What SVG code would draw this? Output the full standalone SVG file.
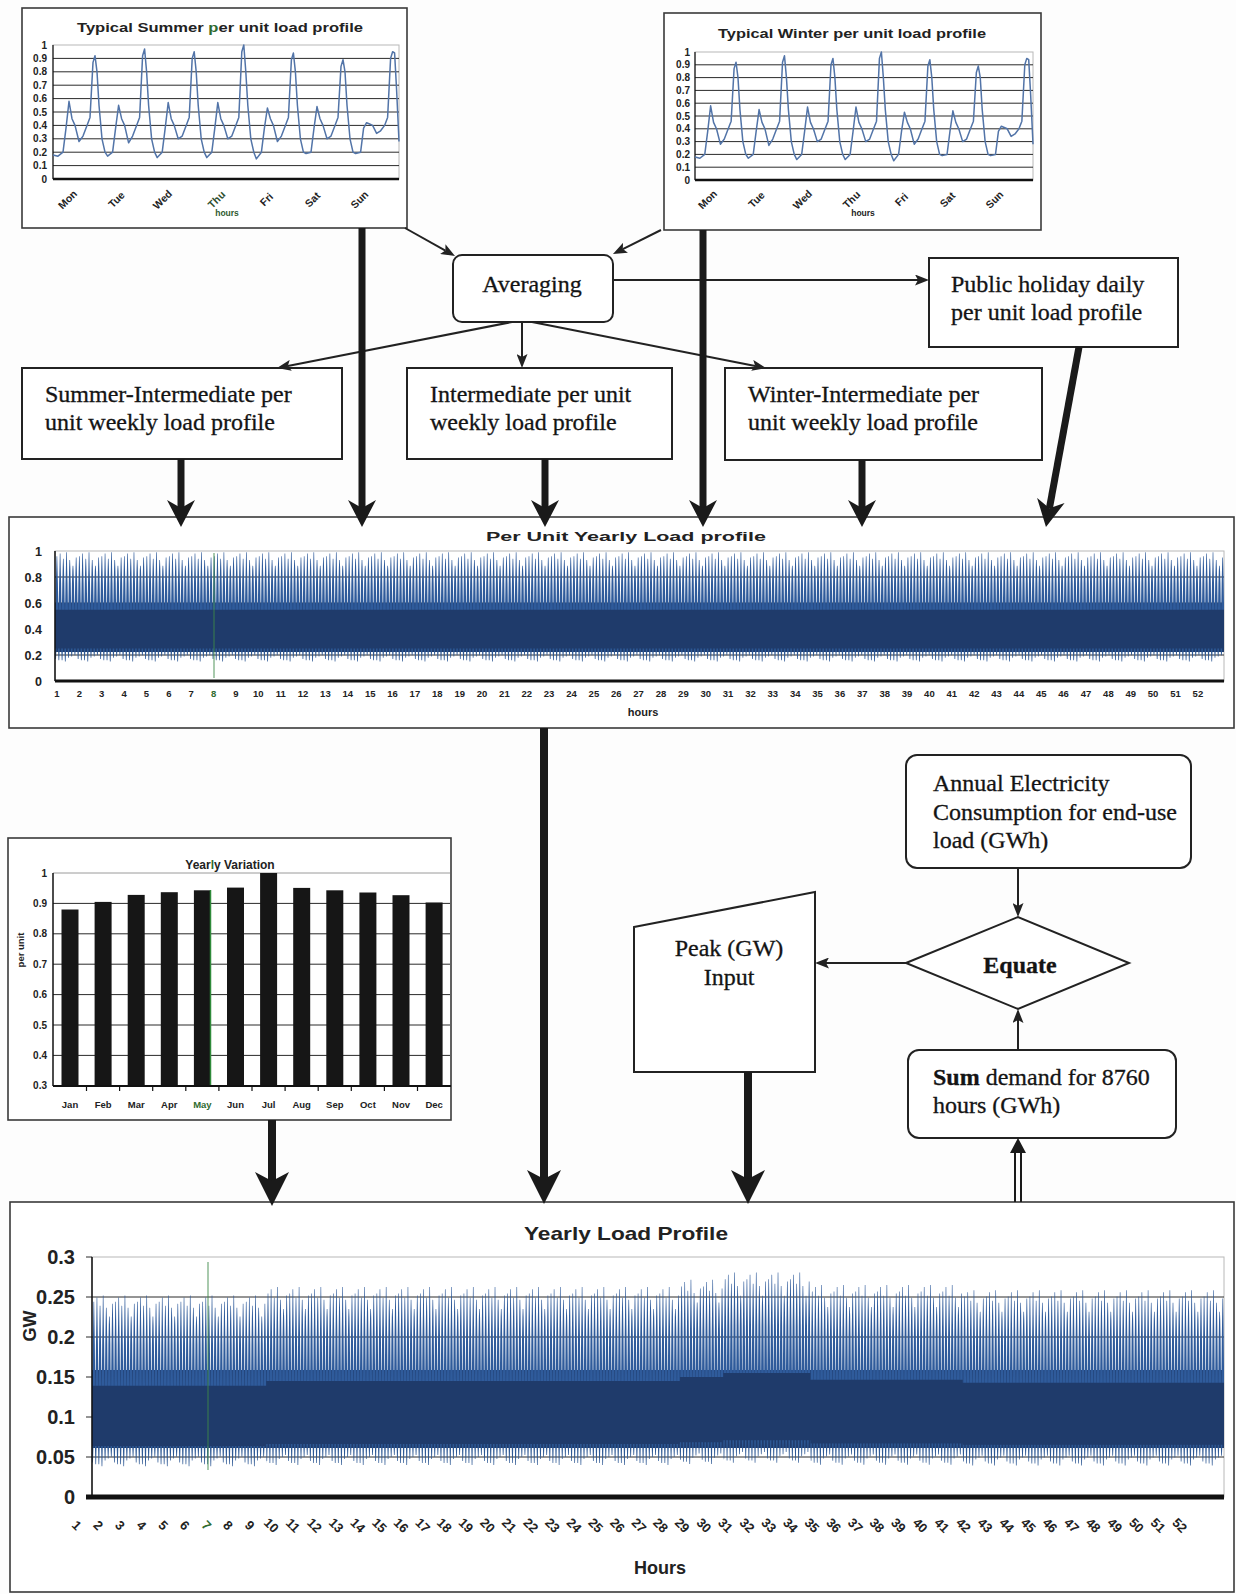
<svg xmlns="http://www.w3.org/2000/svg" xmlns:xlink="http://www.w3.org/1999/xlink" width="1236" height="1594" viewBox="0 0 1236 1594">
<style>
.frame{fill:#fff;stroke:#3a3a3a;stroke-width:1.6}
.box{fill:#fff;stroke:#222;stroke-width:2}
.nt{font-family:"Liberation Serif","Times New Roman",serif;font-size:24px;fill:#141414;stroke:#141414;stroke-width:0.3}
.ct{font-family:"Liberation Sans",Arial,sans-serif;font-weight:bold;fill:#222}
.grid{stroke:#2a2a2a;stroke-width:1}
.pb{fill:none;stroke:#b8b8b8;stroke-width:1}
.ax{stroke:#111;fill:none}
.thin{stroke:#222;stroke-width:2;fill:none;marker-end:url(#at)}
.thick{stroke:#1a1a1a;stroke-width:7;fill:none;marker-end:url(#ah)}
.big{stroke:#1a1a1a;stroke-width:8;fill:none;marker-end:url(#ab)}
.wl{fill:none;stroke:#5274a8;stroke-width:1.5;stroke-linejoin:round}
.grn{fill:#2f6b2f}
.jag{fill:#2d5894}
.spk{fill:#2f5b9b}
.core{fill:#1f3b6b}
</style>
<defs>
<marker id="at" markerUnits="userSpaceOnUse" markerWidth="14" markerHeight="11" refX="3" refY="5.5" orient="auto" viewBox="0 0 14 11"><path d="M0,0 L14,5.5 L0,11 L3,5.5Z" fill="#222"/></marker>
<marker id="ah" markerUnits="userSpaceOnUse" markerWidth="27" markerHeight="28" refX="8" refY="14" orient="auto" viewBox="0 0 27 28"><path d="M0,0 L27,14 L0,28 L8,14Z" fill="#1a1a1a"/></marker>
<marker id="ab" markerUnits="userSpaceOnUse" markerWidth="34" markerHeight="34" refX="9" refY="17" orient="auto" viewBox="0 0 34 34"><path d="M0,0 L34,17 L0,34 L9,17Z" fill="#1a1a1a"/></marker>
<g id="wk">
<path class="jag" d="M-0.2,-53L0.3,-36L1.0,-36L1.5,-53Z M3.01,-53L3.51,-34L4.21,-34L4.71,-53Z M6.22,-53L6.72,-34L7.42,-34L7.92,-53Z M9.43,-53L9.93,-32L10.63,-32L11.13,-53Z M12.65,-53L13.15,-38L13.85,-38L14.35,-53Z M15.86,-53L16.36,-40L17.06,-40L17.56,-53Z M19.07,-53L19.57,-42L20.27,-42L20.77,-53Z"/>
<path class="spk" d="M0.45,-116L0.9,-160L1.3,-185L1.6,-203.5L2.2,-203.5L2.5,-185L2.9,-160L3.35,-116Z M3.66,-116L4.11,-160L4.51,-185L4.81,-207.8L5.41,-207.8L5.71,-185L6.11,-160L6.56,-116Z M6.87,-116L7.32,-160L7.72,-185L8.02,-199.3L8.62,-199.3L8.92,-185L9.32,-160L9.77,-116Z M10.08,-116L10.53,-160L10.93,-185L11.23,-209.9L11.83,-209.9L12.13,-185L12.53,-160L12.98,-116Z M13.3,-116L13.75,-160L14.15,-185L14.45,-197.2L15.05,-197.2L15.35,-185L15.75,-160L16.2,-116Z M16.51,-116L16.96,-160L17.36,-180L17.66,-188L18.26,-188L18.56,-180L18.96,-160L19.41,-116Z M19.72,-116L20.17,-160L20.57,-185L20.87,-201.4L21.47,-201.4L21.77,-185L22.17,-160L22.62,-116Z"/>
</g>
<g id="w4"><use xlink:href="#wk"/><use xlink:href="#wk" x="22.48"/><use xlink:href="#wk" x="44.96"/><use xlink:href="#wk" x="67.44"/></g>
<g id="w52"><use xlink:href="#w4"/><use xlink:href="#w4" x="89.92"/><use xlink:href="#w4" x="179.84"/><use xlink:href="#w4" x="269.76"/><use xlink:href="#w4" x="359.68"/><use xlink:href="#w4" x="449.6"/><use xlink:href="#w4" x="539.52"/><use xlink:href="#w4" x="629.44"/><use xlink:href="#w4" x="719.36"/><use xlink:href="#w4" x="809.28"/><use xlink:href="#w4" x="899.2"/><use xlink:href="#w4" x="989.12"/><use xlink:href="#w4" x="1079.04"/></g>
<clipPath id="cPU"><rect x="55" y="551" width="1169" height="130"/></clipPath>
<clipPath id="cA"><rect x="92" y="1257" width="174.2" height="240"/></clipPath>
<clipPath id="cB"><rect x="266.2" y="1257" width="413.6" height="240"/></clipPath>
<clipPath id="cC1"><rect x="679.8" y="1257" width="43.5" height="240"/></clipPath>
<clipPath id="cC"><rect x="723.3" y="1257" width="87.1" height="240"/></clipPath>
<clipPath id="cD"><rect x="810.4" y="1257" width="152.4" height="240"/></clipPath>
<clipPath id="cE"><rect x="962.8" y="1257" width="261.2" height="240"/></clipPath>
<path id="wkline" class="wl" vector-effect="non-scaling-stroke" d="M53,154.9 L58,156.2 63,152.2 66,128.1 69,101.3 72,118.7 75,125.4 79,141.5 83,136.1 87,125.4 90,117.4 93,62.4 95,55.7 97,71.8 99,105.3 102,138.8 105,152.2 107.6,156.2 112.6,152.2 115.6,128.1 118.6,105.3 121.6,118.7 124.6,125.4 128.6,142.8 132.6,136.1 136.6,125.4 139.6,117.4 142.6,55.7 144.6,49 146.6,71.8 148.6,105.3 151.6,138.8 154.6,152.2 157.2,157.6 162.2,152.2 165.2,128.1 168.2,102.6 171.2,118.7 174.2,125.4 178.2,138.8 182.2,136.1 186.2,125.4 189.2,117.4 192.2,58.4 194.2,51.7 196.2,71.8 198.2,105.3 201.2,138.8 204.2,152.2 206.8,157.6 211.8,152.2 214.8,128.1 217.8,102.6 220.8,118.7 223.8,125.4 227.8,138.8 231.8,136.1 235.8,125.4 238.8,117.4 241.8,51.7 243.8,45 245.8,71.8 247.8,105.3 250.8,138.8 253.8,152.2 256.4,158.9 261.4,152.2 264.4,128.1 267.4,108 270.4,118.7 273.4,125.4 277.4,141.5 281.4,136.1 285.4,125.4 288.4,117.4 291.4,59.7 293.4,53 295.4,71.8 297.4,105.3 300.4,138.8 303.4,152.2 306,153.5 311,152.2 314,128.1 317,106.6 320,118.7 323,125.4 327,138.8 331,136.1 335,125.4 338,117.4 341,66.4 343,59.7 345,71.8 347,105.3 350,138.8 353,152.2 355.6,153.5 360.6,152.2 363.6,128.1 366.6,122.7 369.6,124 372.6,125.4 376.6,133.4 380.6,130.8 384.6,125.4 387.6,117.4 390.6,58.4 392.6,51.7 394.6,53 396.6,90 399,141.5"/>
</defs>
<rect width="1236" height="1594" fill="#fdfdfd"/>

<!-- Summer chart -->
<g id="summer-chart">
<rect class="frame" x="22" y="8" width="385" height="220"/>
<text class="ct" x="220" y="32" font-size="13" text-anchor="middle" textLength="286" lengthAdjust="spacingAndGlyphs">Typical Summer <tspan class="grn">p</tspan>er unit load profile</text>
<rect class="pb" x="53" y="45" width="346" height="134"/>
<g class="grid">
<line x1="53" y1="165.6" x2="399" y2="165.6"/><line x1="53" y1="152.2" x2="399" y2="152.2"/><line x1="53" y1="138.8" x2="399" y2="138.8"/><line x1="53" y1="125.4" x2="399" y2="125.4"/><line x1="53" y1="112" x2="399" y2="112"/><line x1="53" y1="98.6" x2="399" y2="98.6"/><line x1="53" y1="85.2" x2="399" y2="85.2"/><line x1="53" y1="71.8" x2="399" y2="71.8"/><line x1="53" y1="58.4" x2="399" y2="58.4"/>
</g>
<line class="ax" x1="53" y1="45" x2="53" y2="179" stroke-width="1.2"/>
<line class="ax" x1="53" y1="179" x2="399" y2="179" stroke-width="2.5"/>
<use xlink:href="#wkline"/>
<g class="ct" font-size="10" text-anchor="end">
<text x="47" y="48.5">1</text><text x="47" y="61.9">0.9</text><text x="47" y="75.3">0.8</text><text x="47" y="88.7">0.7</text><text x="47" y="102.1">0.6</text><text x="47" y="115.5">0.5</text><text x="47" y="128.9">0.4</text><text x="47" y="142.3">0.3</text><text x="47" y="155.7">0.2</text><text x="47" y="169.1">0.1</text><text x="47" y="182.5">0</text>
</g>
<g class="ct" font-size="10.5" text-anchor="middle">
<text x="68" y="203" transform="rotate(-45 68 200)">Mon</text><text x="117" y="203" transform="rotate(-45 117 200)">Tue</text><text x="163" y="203" transform="rotate(-45 163 200)">Wed</text><text x="217" y="203" transform="rotate(-45 217 200)" fill="#2f4f2f">Thu</text><text x="267" y="203" transform="rotate(-45 267 200)">Fri</text><text x="313" y="203" transform="rotate(-45 313 200)">Sat</text><text x="360" y="203" transform="rotate(-45 360 200)">Sun</text>
<text x="227" y="216" font-size="8.5" fill="#2f5a2f">hours</text>
</g>
</g>

<!-- Winter chart -->
<g id="winter-chart">
<rect class="frame" x="664" y="13" width="377" height="217"/>
<text class="ct" x="852" y="38" font-size="13" text-anchor="middle" textLength="268" lengthAdjust="spacingAndGlyphs">Typical Winter per unit load profile</text>
<rect class="pb" x="695" y="52" width="338" height="128"/>
<g class="grid">
<line x1="695" y1="167.2" x2="1033" y2="167.2"/><line x1="695" y1="154.4" x2="1033" y2="154.4"/><line x1="695" y1="141.6" x2="1033" y2="141.6"/><line x1="695" y1="128.8" x2="1033" y2="128.8"/><line x1="695" y1="116" x2="1033" y2="116"/><line x1="695" y1="103.2" x2="1033" y2="103.2"/><line x1="695" y1="90.4" x2="1033" y2="90.4"/><line x1="695" y1="77.6" x2="1033" y2="77.6"/><line x1="695" y1="64.8" x2="1033" y2="64.8"/>
</g>
<line class="ax" x1="695" y1="52" x2="695" y2="180" stroke-width="1.2"/>
<line class="ax" x1="695" y1="180" x2="1033" y2="180" stroke-width="2.5"/>
<use xlink:href="#wkline" transform="translate(695,180) scale(0.9769,0.9552) translate(-53,-179)"/>
<g class="ct" font-size="10" text-anchor="end">
<text x="690" y="55.5">1</text><text x="690" y="68.3">0.9</text><text x="690" y="81.1">0.8</text><text x="690" y="93.9">0.7</text><text x="690" y="106.7">0.6</text><text x="690" y="119.5">0.5</text><text x="690" y="132.3">0.4</text><text x="690" y="145.1">0.3</text><text x="690" y="157.9">0.2</text><text x="690" y="170.7">0.1</text><text x="690" y="183.5">0</text>
</g>
<g class="ct" font-size="10.5" text-anchor="middle">
<text x="708" y="203" transform="rotate(-45 708 200)">Mon</text><text x="757" y="203" transform="rotate(-45 757 200)">Tue</text><text x="803" y="203" transform="rotate(-45 803 200)">Wed</text><text x="852" y="203" transform="rotate(-45 852 200)">Thu</text><text x="902" y="203" transform="rotate(-45 902 200)">Fri</text><text x="948" y="203" transform="rotate(-45 948 200)">Sat</text><text x="995" y="203" transform="rotate(-45 995 200)">Sun</text>
<text x="863" y="216" font-size="8.5">hours</text>
</g>
</g>

<!-- Flow nodes -->
<g id="averaging"><rect class="box" x="453" y="255" width="160" height="67" rx="9"/><text class="nt" x="532" y="292" text-anchor="middle">Averaging</text></g>
<g id="public-holiday"><rect class="box" x="929" y="258" width="249" height="89"/><text class="nt" x="951" y="292">Public holiday daily</text><text class="nt" x="951" y="320">per unit load profile</text></g>
<g id="summer-intermediate"><rect class="box" x="22" y="368" width="320" height="91"/><text class="nt" x="45" y="402">Summer-Intermediate per</text><text class="nt" x="45" y="430">unit weekly load profile</text></g>
<g id="intermediate"><rect class="box" x="407" y="368" width="265" height="91"/><text class="nt" x="430" y="402">Intermediate per unit</text><text class="nt" x="430" y="430">weekly load profile</text></g>
<g id="winter-intermediate"><rect class="box" x="725" y="368" width="317" height="92"/><text class="nt" x="748" y="402">Winter-Intermediate per</text><text class="nt" x="748" y="430">unit weekly load profile</text></g>

<!-- Per unit yearly chart -->
<g id="per-unit-yearly">
<rect class="frame" x="9" y="517" width="1225" height="211"/>
<text class="ct" x="626" y="541" font-size="13" text-anchor="middle" textLength="280" lengthAdjust="spacingAndGlyphs">Per Unit Yearly Load profile</text>
<rect class="pb" x="55" y="551" width="1169" height="130"/>
<g class="grid"><line x1="55" y1="577" x2="1224" y2="577"/><line x1="55" y1="603" x2="1224" y2="603"/><line x1="55" y1="629" x2="1224" y2="629"/><line x1="55" y1="655" x2="1224" y2="655"/></g>
<rect class="core" x="55" y="603" width="1169" height="49"/>
<g clip-path="url(#cPU)"><use xlink:href="#w52" transform="translate(55,681) scale(1,0.6132)"/></g>
<line x1="214" y1="553" x2="214" y2="678" stroke="#3f8a4a" stroke-width="1.5" opacity="0.6"/>
<line class="ax" x1="55" y1="551" x2="55" y2="681" stroke-width="1.5"/>
<line class="ax" x1="55" y1="681" x2="1224" y2="681" stroke-width="3"/>
<g class="ct" font-size="12.5" text-anchor="end"><text x="42" y="556">1</text><text x="42" y="582">0.8</text><text x="42" y="608">0.6</text><text x="42" y="634">0.4</text><text x="42" y="660">0.2</text><text x="42" y="686">0</text></g>
<g class="ct" font-size="9.5" text-anchor="middle" fill="#2a2a2a">
<text x="57" y="697">1</text><text x="79.4" y="697">2</text><text x="101.7" y="697">3</text><text x="124.1" y="697">4</text><text x="146.5" y="697">5</text><text x="168.9" y="697">6</text><text x="191.2" y="697">7</text><text x="213.6" y="697" class="grn">8</text><text x="236" y="697">9</text><text x="258.3" y="697">10</text><text x="280.7" y="697">11</text><text x="303.1" y="697">12</text><text x="325.4" y="697">13</text><text x="347.8" y="697">14</text><text x="370.2" y="697">15</text><text x="392.6" y="697">16</text><text x="414.9" y="697">17</text><text x="437.3" y="697">18</text><text x="459.7" y="697">19</text><text x="482" y="697">20</text><text x="504.4" y="697">21</text><text x="526.8" y="697">22</text><text x="549.1" y="697">23</text><text x="571.5" y="697">24</text><text x="593.9" y="697">25</text><text x="616.3" y="697">26</text><text x="638.6" y="697">27</text><text x="661" y="697">28</text><text x="683.4" y="697">29</text><text x="705.7" y="697">30</text><text x="728.1" y="697">31</text><text x="750.5" y="697">32</text><text x="772.8" y="697">33</text><text x="795.2" y="697">34</text><text x="817.6" y="697">35</text><text x="839.9" y="697">36</text><text x="862.3" y="697">37</text><text x="884.7" y="697">38</text><text x="907.1" y="697">39</text><text x="929.4" y="697">40</text><text x="951.8" y="697">41</text><text x="974.2" y="697">42</text><text x="996.5" y="697">43</text><text x="1018.9" y="697">44</text><text x="1041.3" y="697">45</text><text x="1063.6" y="697">46</text><text x="1086" y="697">47</text><text x="1108.4" y="697">48</text><text x="1130.8" y="697">49</text><text x="1153.1" y="697">50</text><text x="1175.5" y="697">51</text><text x="1197.9" y="697">52</text>
<text x="643" y="716" font-size="11">hours</text>
</g>
</g>

<!-- Yearly variation chart -->
<g id="yearly-variation">
<rect class="frame" x="8" y="838" width="443" height="282"/>
<text class="ct" x="230" y="869" font-size="12" text-anchor="middle">Year<tspan class="grn">l</tspan>y Variation</text>
<line x1="53" y1="873" x2="450" y2="873" stroke="#9a9a9a" stroke-width="1"/>
<g class="grid"><line x1="53" y1="903.4" x2="450" y2="903.4"/><line x1="53" y1="933.8" x2="450" y2="933.8"/><line x1="53" y1="964.2" x2="450" y2="964.2"/><line x1="53" y1="994.6" x2="450" y2="994.6"/><line x1="53" y1="1025" x2="450" y2="1025"/><line x1="53" y1="1055.4" x2="450" y2="1055.4"/></g>
<g fill="#161616">
<rect x="61.5" y="909.5" width="17" height="176.5"/><rect x="94.6" y="901.9" width="17" height="184.1"/><rect x="127.7" y="894.9" width="17" height="191.1"/><rect x="160.8" y="892.2" width="17" height="193.8"/><rect x="193.9" y="890.3" width="17" height="195.7"/><rect x="227" y="887.6" width="17" height="198.4"/><rect x="260.1" y="873" width="17" height="213"/><rect x="293.2" y="887.9" width="17" height="198.1"/><rect x="326.3" y="890.3" width="17" height="195.7"/><rect x="359.4" y="892.5" width="17" height="193.5"/><rect x="392.5" y="895.2" width="17" height="190.8"/><rect x="425.6" y="902.5" width="17" height="183.5"/>
</g>
<line x1="210.5" y1="890" x2="210.5" y2="1086" stroke="#2f8a3a" stroke-width="1.5"/>
<line class="ax" x1="53" y1="873" x2="53" y2="1086" stroke-width="1.5"/>
<line class="ax" x1="53" y1="1086" x2="451" y2="1086" stroke-width="2"/>
<g class="ax" stroke-width="1.2"><line x1="86.5" y1="1086" x2="86.5" y2="1091"/><line x1="119.6" y1="1086" x2="119.6" y2="1091"/><line x1="152.7" y1="1086" x2="152.7" y2="1091"/><line x1="185.8" y1="1086" x2="185.8" y2="1091"/><line x1="218.9" y1="1086" x2="218.9" y2="1091"/><line x1="252" y1="1086" x2="252" y2="1091"/><line x1="285.1" y1="1086" x2="285.1" y2="1091"/><line x1="318.2" y1="1086" x2="318.2" y2="1091"/><line x1="351.3" y1="1086" x2="351.3" y2="1091"/><line x1="384.4" y1="1086" x2="384.4" y2="1091"/><line x1="417.5" y1="1086" x2="417.5" y2="1091"/></g>
<g class="ct" font-size="10" text-anchor="end"><text x="47" y="876.5">1</text><text x="47" y="906.9">0.9</text><text x="47" y="937.3">0.8</text><text x="47" y="967.7">0.7</text><text x="47" y="998.1">0.6</text><text x="47" y="1028.5">0.5</text><text x="47" y="1058.9">0.4</text><text x="47" y="1089.3">0.3</text></g>
<text class="ct" x="0" y="0" font-size="9.5" text-anchor="middle" transform="translate(24,950) rotate(-90)">per unit</text>
<g class="ct" font-size="9.5" text-anchor="middle">
<text x="70" y="1108">Jan</text><text x="103.1" y="1108">Feb</text><text x="136.2" y="1108">Mar</text><text x="169.3" y="1108">Apr</text><text x="202.4" y="1108" class="grn">May</text><text x="235.5" y="1108">Jun</text><text x="268.6" y="1108">Jul</text><text x="301.7" y="1108">Aug</text><text x="334.8" y="1108">Sep</text><text x="367.9" y="1108">Oct</text><text x="401" y="1108">Nov</text><text x="434.1" y="1108">Dec</text>
</g>
</g>

<!-- Right side nodes -->
<g id="annual"><rect class="box" x="906" y="755" width="285" height="113" rx="11"/><text class="nt" x="933" y="791">Annual Electricity</text><text class="nt" x="933" y="820">Consumption for end-use</text><text class="nt" x="933" y="848">load (GWh)</text></g>
<g id="equate"><path class="box" d="M906,963 L1018,917 L1129,963 L1018,1009 Z"/><text class="nt" x="1020" y="973" text-anchor="middle" font-weight="bold" font-size="28">Equate</text></g>
<g id="peak"><path class="box" d="M634,927 L815,892 L815,1072 L634,1072 Z"/><text class="nt" x="729" y="956" text-anchor="middle">Peak (GW)</text><text class="nt" x="729" y="985" text-anchor="middle">Input</text></g>
<g id="sum"><rect class="box" x="908" y="1050" width="268" height="88" rx="11"/><text class="nt" x="933" y="1085"><tspan font-weight="bold">Sum</tspan> demand for 8760</text><text class="nt" x="933" y="1113">hours (GWh)</text></g>

<!-- Yearly load profile chart -->
<g id="yearly-load-profile">
<rect class="frame" x="10" y="1202" width="1224" height="390"/>
<text class="ct" x="626" y="1240" font-size="19" text-anchor="middle" textLength="204" lengthAdjust="spacingAndGlyphs">Yearly Load Profile</text>
<rect class="pb" x="92" y="1257" width="1132" height="240"/>
<g class="grid" stroke-width="1.3"><line x1="86" y1="1297" x2="1224" y2="1297"/><line x1="86" y1="1337" x2="1224" y2="1337"/><line x1="86" y1="1377" x2="1224" y2="1377"/><line x1="86" y1="1417" x2="1224" y2="1417"/><line x1="86" y1="1457" x2="1224" y2="1457"/><line x1="86" y1="1257" x2="92" y2="1257"/></g>
<rect class="core" x="92" y="1370" width="1132" height="78"/>
<g clip-path="url(#cA)"><use xlink:href="#w52" transform="translate(92,1497) scale(0.9684,0.96)"/></g>
<g clip-path="url(#cB)"><use xlink:href="#w52" transform="translate(92,1497) scale(0.9684,1)"/></g>
<g clip-path="url(#cC1)"><use xlink:href="#w52" transform="translate(92,1497) scale(0.9684,1.035)"/></g>
<g clip-path="url(#cC)"><use xlink:href="#w52" transform="translate(92,1497) scale(0.9684,1.07)"/></g>
<g clip-path="url(#cD)"><use xlink:href="#w52" transform="translate(92,1497) scale(0.9684,1.01)"/></g>
<g clip-path="url(#cE)"><use xlink:href="#w52" transform="translate(92,1497) scale(0.9684,0.985)"/></g>
<line x1="208" y1="1262" x2="208" y2="1470" stroke="#3f8a4a" stroke-width="1.5" opacity="0.6"/>
<line class="ax" x1="92" y1="1257" x2="92" y2="1497" stroke-width="1.5"/>
<line class="ax" x1="86" y1="1497" x2="1224" y2="1497" stroke-width="5"/>
<g class="ct" font-size="20" text-anchor="end"><text x="75" y="1264">0.3</text><text x="75" y="1304">0.25</text><text x="75" y="1344">0.2</text><text x="75" y="1384">0.15</text><text x="75" y="1424">0.1</text><text x="75" y="1464">0.05</text><text x="75" y="1504">0</text></g>
<text class="ct" x="0" y="0" font-size="18" text-anchor="middle" transform="translate(36,1326) rotate(-90)">GW</text>
<g class="ct" font-size="13" text-anchor="middle">
<text x="77" y="1530" transform="rotate(45 77 1525)">1</text><text x="98.6" y="1530" transform="rotate(45 98.6 1525)">2</text><text x="120.3" y="1530" transform="rotate(45 120.3 1525)">3</text><text x="141.9" y="1530" transform="rotate(45 141.9 1525)">4</text><text x="163.5" y="1530" transform="rotate(45 163.5 1525)">5</text><text x="185.2" y="1530" transform="rotate(45 185.2 1525)">6</text><text x="206.8" y="1530" transform="rotate(45 206.8 1525)" class="grn">7</text><text x="228.4" y="1530" transform="rotate(45 228.4 1525)">8</text><text x="250" y="1530" transform="rotate(45 250 1525)">9</text><text x="271.7" y="1530" transform="rotate(45 271.7 1525)">10</text><text x="293.3" y="1530" transform="rotate(45 293.3 1525)">11</text><text x="314.9" y="1530" transform="rotate(45 314.9 1525)">12</text><text x="336.6" y="1530" transform="rotate(45 336.6 1525)">13</text><text x="358.2" y="1530" transform="rotate(45 358.2 1525)">14</text><text x="379.8" y="1530" transform="rotate(45 379.8 1525)">15</text><text x="401.5" y="1530" transform="rotate(45 401.5 1525)">16</text><text x="423.1" y="1530" transform="rotate(45 423.1 1525)">17</text><text x="444.7" y="1530" transform="rotate(45 444.7 1525)">18</text><text x="466.3" y="1530" transform="rotate(45 466.3 1525)">19</text><text x="488" y="1530" transform="rotate(45 488 1525)">20</text><text x="509.6" y="1530" transform="rotate(45 509.6 1525)">21</text><text x="531.2" y="1530" transform="rotate(45 531.2 1525)">22</text><text x="552.9" y="1530" transform="rotate(45 552.9 1525)">23</text><text x="574.5" y="1530" transform="rotate(45 574.5 1525)">24</text><text x="596.1" y="1530" transform="rotate(45 596.1 1525)">25</text><text x="617.8" y="1530" transform="rotate(45 617.8 1525)">26</text><text x="639.4" y="1530" transform="rotate(45 639.4 1525)">27</text><text x="661" y="1530" transform="rotate(45 661 1525)">28</text><text x="682.6" y="1530" transform="rotate(45 682.6 1525)">29</text><text x="704.3" y="1530" transform="rotate(45 704.3 1525)">30</text><text x="725.9" y="1530" transform="rotate(45 725.9 1525)">31</text><text x="747.5" y="1530" transform="rotate(45 747.5 1525)">32</text><text x="769.2" y="1530" transform="rotate(45 769.2 1525)">33</text><text x="790.8" y="1530" transform="rotate(45 790.8 1525)">34</text><text x="812.4" y="1530" transform="rotate(45 812.4 1525)">35</text><text x="834.1" y="1530" transform="rotate(45 834.1 1525)">36</text><text x="855.7" y="1530" transform="rotate(45 855.7 1525)">37</text><text x="877.3" y="1530" transform="rotate(45 877.3 1525)">38</text><text x="898.9" y="1530" transform="rotate(45 898.9 1525)">39</text><text x="920.6" y="1530" transform="rotate(45 920.6 1525)">40</text><text x="942.2" y="1530" transform="rotate(45 942.2 1525)">41</text><text x="963.8" y="1530" transform="rotate(45 963.8 1525)">42</text><text x="985.5" y="1530" transform="rotate(45 985.5 1525)">43</text><text x="1007.1" y="1530" transform="rotate(45 1007.1 1525)">44</text><text x="1028.7" y="1530" transform="rotate(45 1028.7 1525)">45</text><text x="1050.4" y="1530" transform="rotate(45 1050.4 1525)">46</text><text x="1072" y="1530" transform="rotate(45 1072 1525)">47</text><text x="1093.6" y="1530" transform="rotate(45 1093.6 1525)">48</text><text x="1115.2" y="1530" transform="rotate(45 1115.2 1525)">49</text><text x="1136.9" y="1530" transform="rotate(45 1136.9 1525)">50</text><text x="1158.5" y="1530" transform="rotate(45 1158.5 1525)">51</text><text x="1180.1" y="1530" transform="rotate(45 1180.1 1525)">52</text>
</g>
<text class="ct" x="660" y="1574" font-size="18" text-anchor="middle">Hours</text>
</g>

<!-- Connectors -->
<g id="connectors">
<line class="thin" x1="405" y1="228" x2="445.4" y2="250.6"/>
<line class="thin" x1="661" y1="230" x2="622.8" y2="249.1"/>
<line class="thin" x1="613" y1="280" x2="918" y2="280"/>
<line class="thin" x1="512" y1="322" x2="287.8" y2="365.9"/>
<line class="thin" x1="522" y1="322" x2="522" y2="357"/>
<line class="thin" x1="532" y1="322" x2="755.2" y2="365.9"/>
<line class="thick" x1="362" y1="228" x2="362" y2="508"/>
<line class="thick" x1="703" y1="230" x2="703" y2="508"/>
<line class="thick" x1="181" y1="459" x2="181" y2="508"/>
<line class="thick" x1="545" y1="459" x2="545" y2="508"/>
<line class="thick" x1="862" y1="460" x2="862" y2="508"/>
<line class="thick" x1="1079" y1="347" x2="1049.4" y2="508.3"/>
<line class="big" x1="544" y1="728" x2="544" y2="1179"/>
<line class="big" x1="272" y1="1120" x2="272" y2="1181"/>
<line class="big" x1="748" y1="1072" x2="748" y2="1179"/>
<line class="thin" x1="1018" y1="868" x2="1018" y2="906" stroke-width="2.5"/>
<line class="thin" x1="906" y1="963" x2="826" y2="963" stroke-width="3.5"/>
<line class="thin" x1="1018" y1="1050" x2="1018" y2="1020" stroke-width="3"/>
<g stroke="#1a1a1a" stroke-width="2"><line x1="1015" y1="1202" x2="1015" y2="1150"/><line x1="1021" y1="1202" x2="1021" y2="1150"/></g>
<path d="M1010,1153 L1018,1138 L1026,1153 Z" fill="#1a1a1a"/>
</g>
</svg>
